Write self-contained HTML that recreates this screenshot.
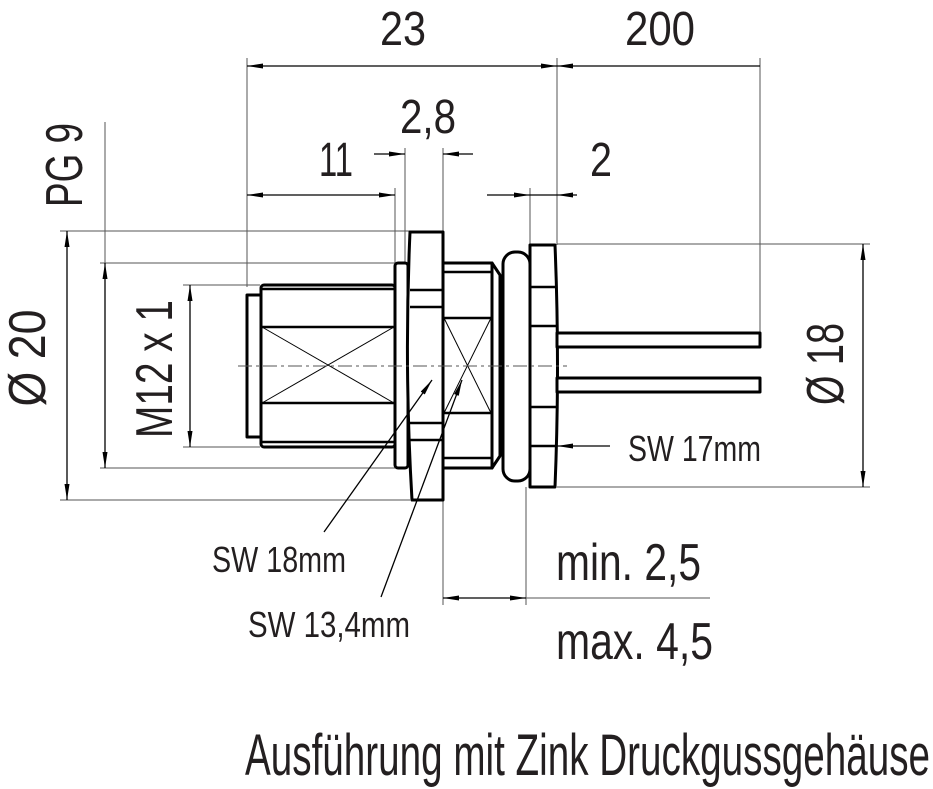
<!DOCTYPE html>
<html><head><meta charset="utf-8"><style>
html,body{margin:0;padding:0;background:#fff}
svg{display:block}
text{font-family:"Liberation Sans",sans-serif;fill:#231f20}
</style></head><body>
<svg width="933" height="789" viewBox="0 0 933 789" xmlns="http://www.w3.org/2000/svg">
<defs>
<marker id="a" viewBox="0 0 16 6" refX="16" refY="3" markerWidth="16" markerHeight="6" orient="auto-start-reverse" markerUnits="userSpaceOnUse"><path d="M0,0.5 L16,3 L0,5.5z" fill="#000"/></marker>
</defs>
<g stroke="#555" stroke-width="1" fill="none">
<line x1="247" y1="58" x2="247" y2="287"/>
<line x1="557" y1="58" x2="557" y2="245"/>
<line x1="760" y1="58" x2="760" y2="333"/>
<line x1="405" y1="148" x2="405" y2="263"/>
<line x1="443" y1="148" x2="443" y2="232"/>
<line x1="395" y1="188" x2="395" y2="263"/>
<line x1="530" y1="188" x2="530" y2="245"/>
<line x1="60" y1="231" x2="410" y2="231"/>
<line x1="60" y1="500" x2="410" y2="500"/>
<line x1="100" y1="263" x2="396" y2="263"/>
<line x1="100" y1="468" x2="396" y2="468"/>
<line x1="183" y1="285" x2="260" y2="285"/>
<line x1="183" y1="447" x2="260" y2="447"/>
<line x1="557" y1="244" x2="870" y2="244"/>
<line x1="557" y1="487" x2="870" y2="487"/>
<line x1="105" y1="122" x2="105" y2="263"/>
<line x1="443" y1="500" x2="443" y2="605"/>
<line x1="526" y1="487" x2="526" y2="605"/>
<line x1="526" y1="598" x2="710" y2="598"/>
</g>
<g stroke="#000" stroke-width="1.3" fill="none">
<line x1="247" y1="66" x2="557" y2="66" marker-start="url(#a)" marker-end="url(#a)"/>
<line x1="557" y1="66" x2="760" y2="66" marker-start="url(#a)"/>
<line x1="374" y1="154" x2="405" y2="154" marker-end="url(#a)"/>
<line x1="473" y1="154" x2="443" y2="154" marker-end="url(#a)"/>
<line x1="247" y1="195" x2="395" y2="195" marker-start="url(#a)" marker-end="url(#a)"/>
<line x1="487" y1="195" x2="530" y2="195" marker-end="url(#a)"/>
<line x1="577" y1="195" x2="557" y2="195" marker-end="url(#a)"/>
<line x1="530" y1="195" x2="557" y2="195"/>
<line x1="67" y1="231" x2="67" y2="500" marker-start="url(#a)" marker-end="url(#a)"/>
<line x1="105" y1="263" x2="105" y2="468" marker-start="url(#a)" marker-end="url(#a)"/>
<line x1="190" y1="285" x2="190" y2="447" marker-start="url(#a)" marker-end="url(#a)"/>
<line x1="863" y1="244" x2="863" y2="487" marker-start="url(#a)" marker-end="url(#a)"/>
<line x1="443" y1="598" x2="526" y2="598" marker-start="url(#a)" marker-end="url(#a)"/>
<line x1="610" y1="446" x2="557" y2="446" marker-end="url(#a)"/>
</g>
<g stroke="#000" stroke-width="3" fill="#fff" stroke-linejoin="round">
<rect x="247" y="295" width="14" height="142"/>
<rect x="261" y="285" width="134" height="162" rx="3"/>
<rect x="395" y="263" width="13" height="205" rx="3"/>
<rect x="443" y="263" width="49" height="205"/>
<path d="M492,263 L500,275 L500,456 L492,468z"/>
<path d="M410,232 L443,232 L443,500 L412,500 Q404,366 410,232z"/>
<rect x="503" y="252" width="27" height="229" rx="12"/>
<path d="M530,245 L555,245 Q560,366 555,487 L530,487z"/>
<rect x="557" y="333" width="203" height="14"/>
<rect x="557" y="378" width="203" height="14"/>
</g>
<g stroke="#000" stroke-width="2.5">
<line x1="261" y1="289" x2="395" y2="289"/><line x1="261" y1="327" x2="395" y2="327"/>
<line x1="261" y1="403" x2="395" y2="403"/><line x1="261" y1="442" x2="395" y2="442"/>
<line x1="410" y1="290" x2="443" y2="290"/><line x1="410" y1="307" x2="443" y2="307"/>
<line x1="410" y1="423" x2="443" y2="423"/><line x1="410" y1="440" x2="443" y2="440"/>
<line x1="443" y1="272" x2="492" y2="272"/><line x1="443" y1="318" x2="492" y2="318"/>
<line x1="443" y1="413" x2="492" y2="413"/><line x1="443" y1="458" x2="492" y2="458"/>
<line x1="530" y1="287" x2="556" y2="287"/><line x1="530" y1="326" x2="557" y2="326"/>
<line x1="530" y1="407" x2="557" y2="407"/><line x1="530" y1="446" x2="556" y2="446"/>
</g>
<g stroke="#000" stroke-width="1">
<line x1="262" y1="327" x2="394" y2="403"/><line x1="262" y1="403" x2="394" y2="327"/>
<line x1="444" y1="318" x2="491" y2="413"/><line x1="444" y1="413" x2="491" y2="318"/>
</g>
<line x1="238" y1="366" x2="567" y2="366" stroke="#555" stroke-width="1" stroke-dasharray="14,4,3,4"/>
<g stroke="#000" stroke-width="1.3" fill="none">
<line x1="324" y1="532" x2="432" y2="380" marker-end="url(#a)"/>
<line x1="381" y1="597" x2="462" y2="380" marker-end="url(#a)"/>
</g>
<g font-size="48">
<text x="403" y="45" text-anchor="middle" textLength="46" lengthAdjust="spacingAndGlyphs">23</text>
<text x="660" y="45" text-anchor="middle" textLength="70" lengthAdjust="spacingAndGlyphs">200</text>
<text x="428" y="133" text-anchor="middle" textLength="56" lengthAdjust="spacingAndGlyphs">2,8</text>
<text x="336" y="176" text-anchor="middle" textLength="34" lengthAdjust="spacingAndGlyphs">11</text>
<text x="601" y="176" text-anchor="middle" textLength="22" lengthAdjust="spacingAndGlyphs">2</text>
</g>
<g font-size="52">
<text transform="translate(45,358) rotate(-90)" text-anchor="middle" textLength="97" lengthAdjust="spacingAndGlyphs">Ø 20</text>
<text transform="translate(172,369) rotate(-90)" text-anchor="middle" textLength="138" lengthAdjust="spacingAndGlyphs">M12 x 1</text>
<text transform="translate(82,165) rotate(-90)" text-anchor="middle" textLength="84" lengthAdjust="spacingAndGlyphs">PG 9</text>
<text transform="translate(843,364) rotate(-90)" text-anchor="middle" textLength="82" lengthAdjust="spacingAndGlyphs">Ø 18</text>
</g>
<g font-size="36">
<text x="212" y="572" textLength="134" lengthAdjust="spacingAndGlyphs">SW 18mm</text>
<text x="248" y="637" textLength="162" lengthAdjust="spacingAndGlyphs">SW 13,4mm</text>
<text x="628" y="461" textLength="133" lengthAdjust="spacingAndGlyphs">SW 17mm</text>
</g>
<g font-size="52">
<text x="556" y="580" textLength="145" lengthAdjust="spacingAndGlyphs">min. 2,5</text>
<text x="556" y="659" textLength="157" lengthAdjust="spacingAndGlyphs">max. 4,5</text>
</g>
<text x="245" y="775" font-size="58" textLength="685" lengthAdjust="spacingAndGlyphs">Ausführung mit Zink Druckgussgehäuse</text>
</svg>
</body></html>
